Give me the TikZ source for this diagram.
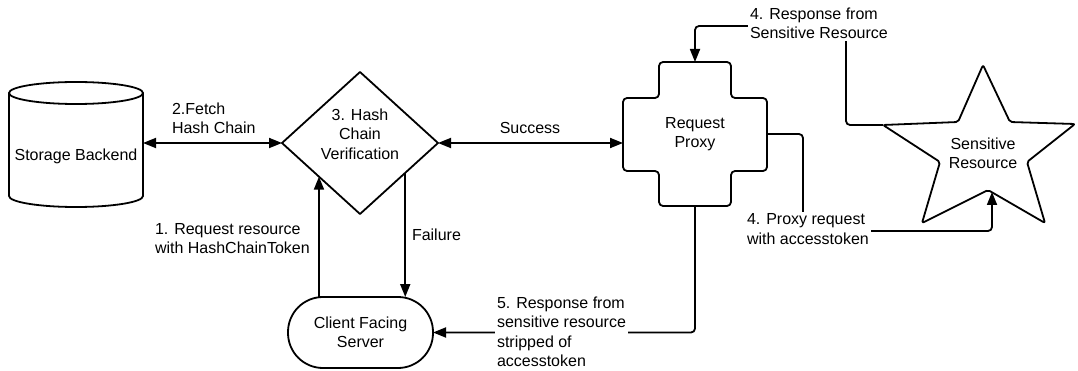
\documentclass[tikz,border=0pt]{standalone}
\usepackage{fontspec}
\setmainfont{Liberation Sans}
\usetikzlibrary{arrows.meta,shapes.geometric,calc}
\begin{document}
\begin{tikzpicture}[x=1pt,y=-1pt,
  every node/.style={font=\fontsize{16}{19.5}\selectfont, inner sep=0pt, outer sep=0pt},
  shapeline/.style={draw=black, line width=1.8pt, line join=round},
  conn/.style={draw=black, line width=1.8pt, rounded corners=4pt},
  tip/.style={-{Triangle[length=13pt,width=10pt]}},
  tips/.style={{Triangle[length=13pt,width=10pt]}-{Triangle[length=13pt,width=10pt]}},
  lbl/.style={fill=white, inner sep=2pt, align=left, anchor=west},
  txt/.style={align=center}]
\useasboundingbox (0,0) rectangle (1078,371);

% storage backend (cylinder)
\node[minimum width=134pt, minimum height=125pt] (store) at (76,144.5) {};
\draw[shapeline] (76,93) ellipse[x radius=67, y radius=11];
\draw[shapeline] (9,93) -- (9,196) arc[start angle=180, end angle=0, x radius=67, y radius=11] -- (143,93);
\node (storetext) at (76,156) {Storage Backend};

% hash chain verification (decision)
\node[diamond, shapeline, minimum width=156pt, minimum height=142pt] (verify) at (360,143) {};
\node[txt] (verifytext) at (360,134) {3. Hash\\Chain\\Verification};

% request proxy (cross shape)
\node[minimum width=144pt, minimum height=144pt, txt] (proxy) at (695,134) {Request\\Proxy};
\draw[shapeline, rounded corners=4pt] (659,62) -- (731,62) -- (731,98) -- (767,98) -- (767,171)
  -- (731,171) -- (731,206) -- (659,206) -- (659,171) -- (623,171) -- (623,98) -- (659,98) -- cycle;

% sensitive resource (star)
\coordinate (sT) at (983,65);
\coordinate (sUR) at (1010,122);
\coordinate (sR) at (1075,124);
\coordinate (sLR) at (1027,162);
\coordinate (sBR) at (1045,223);
\coordinate (sB) at (988,190);
\coordinate (sBL) at (922,223);
\coordinate (sLL) at (940,162);
\coordinate (sL) at (883,125);
\coordinate (sUL) at (958,122);
\draw[shapeline, rounded corners=2pt] (sT) -- (sUR) -- (sR) -- (sLR) -- (sBR) -- (sB) -- (sBL) -- (sLL) -- (sL) -- (sUL) -- cycle;
\node[txt] (star) at (983,153.5) {Sensitive\\Resource};

% client facing server (terminal)
\node[shapeline, rounded corners=35pt, minimum width=145pt, minimum height=71pt, txt] (client) at (360.5,332.5) {Client Facing\\Server};

% connectors
\draw[conn, tips] (store.east |- verify.west) -- (verify.west);
\draw[conn, tips] (verify.east) -- (verify.east -| proxy.west);

\coordinate (failTop) at ($(verify.east)!0.42!(verify.south)$);
\coordinate (reqTop) at ($(verify.west)!0.474!(verify.south)$);
\draw[conn, tip] (failTop) -- (failTop |- client.north);
\draw[conn, tip] (reqTop |- client.north) -- (reqTop);

\draw[conn, tip] (proxy.south) |- (client.east);

\coordinate (bendTop) at (846,26);
\draw[conn, tip] (sL) -- (sL -| bendTop) -- (bendTop) -- (bendTop -| proxy.north) -- (proxy.north);

\coordinate (bendR) at (803,231);
\coordinate (sIn) at (992,192);
\draw[conn, tip] (proxy.east) -- (proxy.east -| bendR) -- (bendR) -- (bendR -| sIn) -- (sIn);

% connector labels
\node[lbl] (lfetch) at (170,118.5) {2.Fetch\\Hash Chain};
\node (lsuccess) at (530,128) {Success};
\node[lbl] (lrequest) at (153,238.5) {1. Request resource\\with HashChainToken};
\node[lbl] (lfail) at (410,235) {Failure};
\node[lbl] (lresp) at (495,332) {5. Response from\\sensitive resource\\stripped of\\accesstoken};
\node[lbl] (lproxyreq) at (745,229) {4. Proxy request\\with accesstoken};
\node[lbl] (lsens) at (748,23.5) {4. Response from\\Sensitive Resource};
\end{tikzpicture}
\end{document}
